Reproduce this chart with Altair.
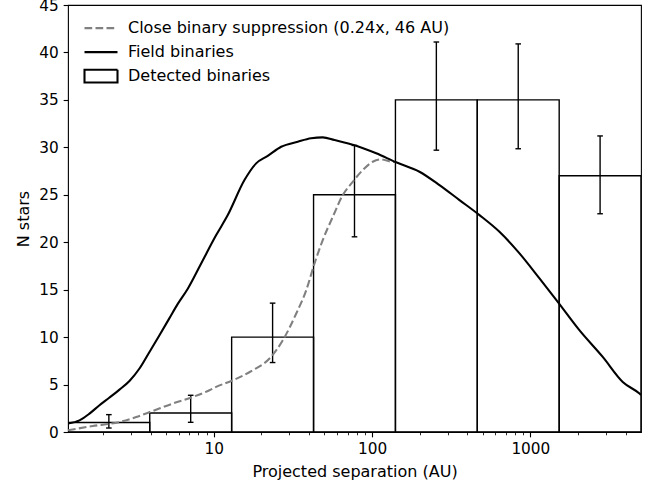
import altair as alt
import pandas as pd

# ---------------- data ----------------
bin_edges = [1.2, 3.94, 12.97, 42.7, 140.5, 462.0, 1521.0, 5000.0]
bin_counts = [1, 2, 10, 25, 35, 35, 27]
err_lo = [0.42, 1.02, 7.32, 20.57, 29.7, 29.85, 23.0]
err_hi = [1.83, 3.87, 13.58, 30.2, 41.1, 40.9, 31.2]

field_sep = [1.2, 1.418, 1.640, 1.897, 2.194, 2.537, 2.934, 3.394, 3.925,
             4.539, 5.250, 5.925, 6.852, 8.326, 10.36, 12.26, 15.63, 18.53, 21.93,
             26.66, 33.94, 41.24, 48.83, 57.87, 79.36, 106.2, 142.0, 199.3, 266.6,
             356.6, 477.0, 638, 854, 1142, 1490, 2040, 2866, 3834, 4890, 5000]
field_n = [0.9, 1.23, 1.94, 2.82, 3.63, 4.47, 5.38, 6.69, 8.44,
           10.2, 12.0, 13.5, 15.1, 17.76, 20.75, 22.86, 26.55, 28.31, 29.1,
           30.06, 30.59, 30.95, 31.05, 30.77, 30.17, 29.37, 28.42, 27.43, 26.02,
           24.44, 22.86, 21.1, 18.82, 16.18, 13.71, 10.73, 7.91, 5.27, 4.05, 3.9]

supp_sep = [1.2, 1.72, 2.54, 3.24, 4.12, 5.51, 7.36, 9.39, 10.35, 13.2, 17.6,
            22.5, 27.3, 33.2, 38.4, 43.3, 48.8, 56.5, 65.3, 75.5, 87.3, 101, 114,
            132, 140]
supp_n = [0.18, 0.63, 1.05, 1.58, 2.22, 3.0, 3.69, 4.4, 4.75, 5.45, 6.5,
          7.74, 9.67, 12.49, 14.95, 17.76, 20.22, 22.68, 24.97, 26.37, 27.6, 28.48,
          28.73, 28.48, 28.45]

legend_labels = ["Close binary suppression (0.24x, 46 AU)", "Field binaries",
                 "Detected binaries"]

major_ticks = [10, 100, 1000]
minor_ticks = [2, 3, 4, 5, 6, 7, 8, 9, 20, 30, 40, 50, 60, 70, 80, 90,
               200, 300, 400, 500, 600, 700, 800, 900, 2000, 3000, 4000]
y_ticks = [0, 5, 10, 15, 20, 25, 30, 35, 40, 45]

# ---------------- tables ----------------
bars = pd.DataFrame({"lo": bin_edges[:-1], "hi": bin_edges[1:], "n": bin_counts,
                     "elo": err_lo, "ehi": err_hi})
field = pd.DataFrame({"sep": field_sep, "n": field_n})
supp = pd.DataFrame({"sep": supp_sep, "n": supp_n})
leg = pd.DataFrame({"series": legend_labels})

TICK_FS = 15.3
TEXT_FS = 16

is_major = "indexof([10,100,1000], datum.value) >= 0"
x_scale = alt.Scale(type="log", domain=[1.2, 5000], nice=False)
x_axis = alt.Axis(
    values=sorted(major_ticks + minor_ticks),
    format="d",
    labelExpr=f"{is_major} ? datum.label : ''",
    tickSize={"condition": {"test": is_major, "value": 4.86}, "value": 2.78},
    tickWidth={"condition": {"test": is_major, "value": 1.11}, "value": 0.83},
    labelPadding=4.86, titlePadding=6, grid=False, domain=False,
    title="Projected separation (AU)")
y_scale = alt.Scale(domain=[0, 45], nice=False)
y_axis = alt.Axis(values=y_ticks, tickSize=4.86, tickWidth=1.11, labelPadding=4.86,
                  titlePadding=7, grid=False, domain=False, title="N stars")


def X(field_name):
    return alt.X(f"{field_name}:Q", scale=x_scale, axis=x_axis)


def Y(field_name):
    return alt.Y(f"{field_name}:Q", scale=y_scale, axis=y_axis)


base_b = alt.Chart(bars).transform_calculate(mid="sqrt(datum.lo*datum.hi)")

hist = base_b.mark_rect(fill=None, stroke="black", strokeWidth=1.39, clip=True).encode(
    x=X("lo"), x2="hi", y=Y("n"), y2=alt.datum(0))

err = base_b.mark_rule(color="black", strokeWidth=1.39).encode(
    x=X("mid"), y=Y("elo"), y2="ehi")
cap_lo = base_b.mark_tick(orient="horizontal", color="black", size=5.6,
                          thickness=1.39, opacity=1).encode(x=X("mid"), y=Y("elo"))
cap_hi = base_b.mark_tick(orient="horizontal", color="black", size=5.6,
                          thickness=1.39, opacity=1).encode(x=X("mid"), y=Y("ehi"))

supp_line = alt.Chart(supp).mark_line(color="#808080", strokeWidth=2.08,
                                      strokeDash=[7.7, 3.3], interpolate="monotone",
                                      clip=True).encode(x=X("sep"), y=Y("n"))
field_line = alt.Chart(field).mark_line(color="black", strokeWidth=2.08,
                                        interpolate="monotone", clip=True).encode(
    x=X("sep"), y=Y("n"))

shape_range = ["M-1,0L1,0", "M-1,0L1,0", "M-1,-0.385L1,-0.385L1,0.385L-1,0.385Z"]
legend_layer = alt.Chart(leg).transform_filter("false").mark_point(
    filled=False, opacity=1, size=1089).encode(
    color=alt.Color("series:N", scale=alt.Scale(domain=legend_labels,
                                                range=["#808080", "black", "black"]),
                    legend=alt.Legend(title=None)),
    shape=alt.Shape("series:N", scale=alt.Scale(domain=legend_labels, range=shape_range),
                    legend=alt.Legend(title=None)),
    strokeDash=alt.StrokeDash("series:N",
                              scale=alt.Scale(domain=legend_labels,
                                              range=[[7.7, 3.3], [1, 0], [1, 0]]),
                              legend=alt.Legend(title=None)),
)

chart = alt.layer(hist, err, cap_lo, cap_hi, supp_line, field_line, legend_layer).properties(
    width=573, height=427,
    padding={"left": 68, "top": 5, "right": 17, "bottom": 50},
    autosize=alt.AutoSizeParams(type="none"),
    background="white",
).configure_axis(
    labelFont="DejaVu Sans", titleFont="DejaVu Sans", labelFontSize=TICK_FS,
    titleFontSize=TEXT_FS, labelColor="black", titleColor="black", tickColor="black",
    titleFontWeight="normal",
).configure_view(stroke="black", strokeWidth=1.11).configure_legend(
    orient="none", legendX=15, legendY=11.5, padding=0, rowPadding=0, clipHeight=23.3,
    symbolSize=1089, symbolStrokeWidth=2.08, labelOffset=9, labelFontSize=TEXT_FS,
    labelFont="DejaVu Sans", labelColor="black", labelLimit=0,
)

chart.save("out.html", embed_options={"renderer": "svg", "actions": False})
